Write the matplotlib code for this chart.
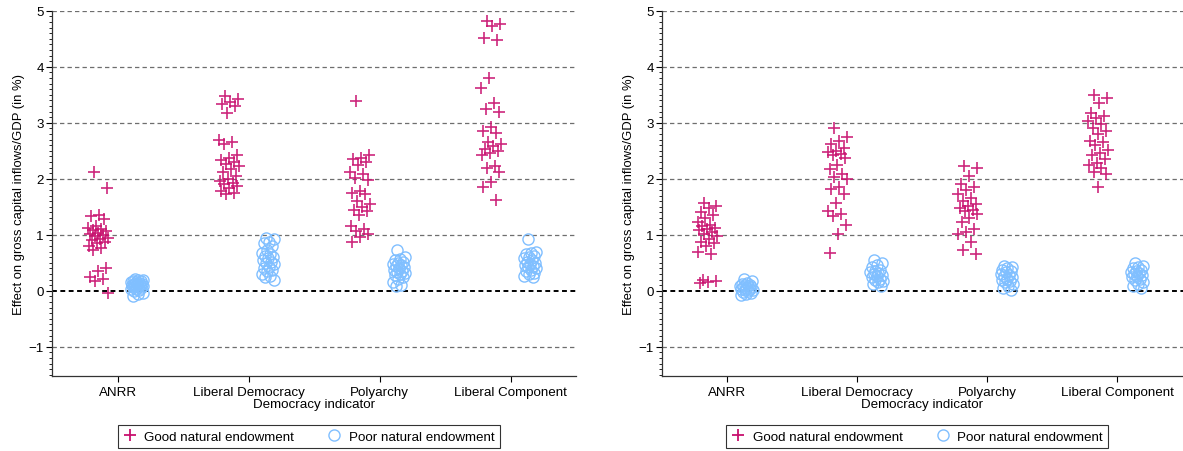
import numpy as np
import matplotlib
matplotlib.use("Agg")
import matplotlib.pyplot as plt
from matplotlib.ticker import MultipleLocator
from matplotlib.lines import Line2D

plt.rcParams['font.family'] = ['Liberation Sans', 'DejaVu Sans']

categories = ["ANRR", "Liberal Democracy", "Polyarchy", "Liberal Component"]
y_ticks = [-1, 0, 1, 2, 3, 4, 5]
y_label = "Effect on gross capital inflows/GDP (in %)"
x_label = "Democracy indicator"
legend_labels = ["Good natural endowment", "Poor natural endowment"]

# Panel 1 estimates
p1_good_anrr = [2.12, 1.83, 1.36, 1.33, 1.29, 1.15, 1.12, 1.10, 1.08, 1.06, 1.04, 1.02, 1.00, 0.98,
                0.95, 0.93, 0.90, 0.88, 0.85, 0.80, 0.77, 0.73, 0.40, 0.36, 0.25, 0.22, 0.18, -0.04]
p1_poor_anrr = [0.22, 0.20, 0.19, 0.18, 0.17, 0.16, 0.15, 0.14, 0.13, 0.12, 0.12, 0.11, 0.10, 0.09,
                0.08, 0.07, 0.06, 0.05, 0.04, 0.03, 0.02, 0.00, -0.03, -0.06, -0.09]
p1_good_libdem = [3.48, 3.42, 3.37, 3.34, 3.30, 3.18, 2.70, 2.66, 2.62, 2.42, 2.38, 2.34, 2.30, 2.26,
                  2.22, 2.18, 2.12, 2.05, 2.00, 1.96, 1.93, 1.90, 1.88, 1.84, 1.78, 1.74, 1.72]
p1_poor_libdem = [0.95, 0.92, 0.88, 0.85, 0.80, 0.72, 0.68, 0.65, 0.62, 0.60, 0.58, 0.55, 0.52, 0.50,
                  0.47, 0.42, 0.40, 0.38, 0.35, 0.30, 0.27, 0.24, 0.20]
p1_good_poly = [3.38, 2.42, 2.38, 2.35, 2.30, 2.25, 2.12, 2.08, 2.02, 1.98, 1.78, 1.75, 1.72, 1.60,
                1.55, 1.50, 1.45, 1.42, 1.35, 1.15, 1.10, 1.06, 1.02, 0.96, 0.88]
p1_poor_poly = [0.73, 0.60, 0.57, 0.55, 0.52, 0.50, 0.48, 0.46, 0.44, 0.42, 0.40, 0.38, 0.36, 0.34,
                0.32, 0.30, 0.28, 0.25, 0.22, 0.15, 0.10, 0.08]
p1_good_libcomp = [4.82, 4.76, 4.72, 4.52, 4.47, 3.80, 3.62, 3.35, 3.25, 3.20, 2.92, 2.86, 2.82, 2.66,
                   2.62, 2.58, 2.54, 2.50, 2.46, 2.42, 2.22, 2.20, 2.12, 1.95, 1.86, 1.62]
p1_poor_libcomp = [0.92, 0.70, 0.68, 0.65, 0.62, 0.60, 0.58, 0.55, 0.52, 0.50, 0.48, 0.46, 0.44, 0.42,
                   0.40, 0.38, 0.35, 0.32, 0.30, 0.27, 0.25]

# Panel 2 estimates
p2_good_anrr = [1.57, 1.52, 1.48, 1.40, 1.35, 1.30, 1.22, 1.18, 1.15, 1.12, 1.10, 1.08, 1.05, 1.02,
                0.98, 0.93, 0.88, 0.85, 0.80, 0.70, 0.66, 0.20, 0.18, 0.16, 0.14]
p2_poor_anrr = [0.22, 0.17, 0.14, 0.12, 0.11, 0.10, 0.09, 0.08, 0.07, 0.06, 0.05, 0.04, 0.03, 0.02,
                0.01, 0.00, -0.02, -0.04, -0.06, -0.08]
p2_good_libdem = [2.90, 2.75, 2.68, 2.62, 2.55, 2.50, 2.48, 2.45, 2.42, 2.38, 2.25, 2.18, 2.08, 2.04,
                  2.00, 1.85, 1.82, 1.72, 1.56, 1.42, 1.38, 1.33, 1.18, 1.02, 0.68]
p2_poor_libdem = [0.55, 0.50, 0.46, 0.42, 0.38, 0.36, 0.34, 0.32, 0.30, 0.28, 0.26, 0.24, 0.22, 0.20,
                  0.18, 0.15, 0.12, 0.08]
p2_good_poly = [2.22, 2.20, 2.05, 1.90, 1.85, 1.80, 1.72, 1.65, 1.60, 1.55, 1.52, 1.48, 1.45, 1.42,
                1.38, 1.30, 1.22, 1.10, 1.05, 1.02, 0.88, 0.72, 0.66]
p2_poor_poly = [0.45, 0.42, 0.40, 0.38, 0.35, 0.33, 0.30, 0.28, 0.26, 0.24, 0.22, 0.20, 0.18, 0.15,
                0.12, 0.08, 0.05, 0.02]
p2_good_libcomp = [3.50, 3.45, 3.35, 3.18, 3.12, 3.08, 3.04, 2.98, 2.90, 2.85, 2.80, 2.68, 2.65, 2.60,
                   2.52, 2.46, 2.42, 2.35, 2.28, 2.25, 2.20, 2.12, 2.08, 1.85]
p2_poor_libcomp = [0.50, 0.45, 0.42, 0.40, 0.38, 0.36, 0.34, 0.32, 0.30, 0.28, 0.26, 0.24, 0.22, 0.20,
                   0.15, 0.12, 0.08, 0.05]

panels = [
    ([p1_good_anrr, p1_good_libdem, p1_good_poly, p1_good_libcomp],
     [p1_poor_anrr, p1_poor_libdem, p1_poor_poly, p1_poor_libcomp]),
    ([p2_good_anrr, p2_good_libdem, p2_good_poly, p2_good_libcomp],
     [p2_poor_anrr, p2_poor_libdem, p2_poor_poly, p2_poor_libcomp]),
]

GOOD_COLOR = "#C8106E"
POOR_COLOR = "#80BFFF"
OFFSET = 0.15
GOOD_SPREAD = 0.16
POOR_SPREAD = 0.10
FS = 9.6


def spread(n, width):
    # deterministic horizontal spread so overlapping estimates stay visible
    k = np.arange(n)
    return ((k * 0.6180339887 + 0.31) % 1.0 - 0.5) * width


fig = plt.figure(figsize=(11.83, 4.52), dpi=100)
axes_rects = [[0.044, 0.166, 0.443, 0.808], [0.5596, 0.166, 0.44, 0.808]]

for rect, (good, poor) in zip(axes_rects, panels):
    ax = fig.add_axes(rect)
    for yv in y_ticks:
        if yv == 0:
            ax.axhline(0, color="black", lw=1.4, ls=(0, (2.5, 1.8)), zorder=1)
        else:
            ax.axhline(yv, color="#6e6e6e", lw=0.9, ls=(0, (3.5, 2.5)), zorder=1)
    for i, (g, p) in enumerate(zip(good, poor)):
        xc = i + 1
        ax.plot(xc - OFFSET + spread(len(g), GOOD_SPREAD), g, ls="none", marker="+", ms=8.5,
                mew=1.2, color=GOOD_COLOR, alpha=0.9, zorder=3)
        ax.plot(xc + OFFSET + spread(len(p), POOR_SPREAD), p, ls="none", marker="o", ms=8,
                mfc="none", mec=POOR_COLOR, mew=1.0, zorder=3)

    ax.set_xlim(0.5, 4.5)
    ax.set_ylim(-1.52, 5.0)
    ax.set_xticks(range(1, len(categories) + 1))
    ax.set_xticklabels(categories, fontsize=FS)
    ax.set_yticks(y_ticks)
    ax.set_yticklabels(["\u22121" if v < 0 else str(v) for v in y_ticks], fontsize=FS)
    ax.yaxis.set_minor_locator(MultipleLocator(0.1))
    ax.tick_params(axis="y", which="major", length=4, width=0.8, pad=2)
    ax.tick_params(axis="y", which="minor", length=2, width=0.6)
    ax.tick_params(axis="x", which="major", length=4, width=0.8, pad=3)
    for s in ("top", "right"):
        ax.spines[s].set_visible(False)
    for s in ("left", "bottom"):
        ax.spines[s].set_color("#333333")
        ax.spines[s].set_linewidth(0.9)
    ax.set_ylabel(y_label, fontsize=9.4, labelpad=2.5)
    ax.set_xlabel(x_label, fontsize=FS, labelpad=0)

    handles = [
        Line2D([], [], ls="none", marker="+", ms=9, mew=1.3, color=GOOD_COLOR),
        Line2D([], [], ls="none", marker="o", ms=8, mfc="none", mec=POOR_COLOR, mew=1.0),
    ]
    leg = ax.legend(handles, legend_labels, loc="upper center", bbox_to_anchor=(0.49, -0.135),
                    ncol=2, fontsize=FS, frameon=True, fancybox=False, handlelength=1.0,
                    handletextpad=0.6, columnspacing=2.5, borderpad=0.4, borderaxespad=0)
    leg.get_frame().set_edgecolor("black")
    leg.get_frame().set_linewidth(0.8)

fig.savefig("out.png", dpi=100)
